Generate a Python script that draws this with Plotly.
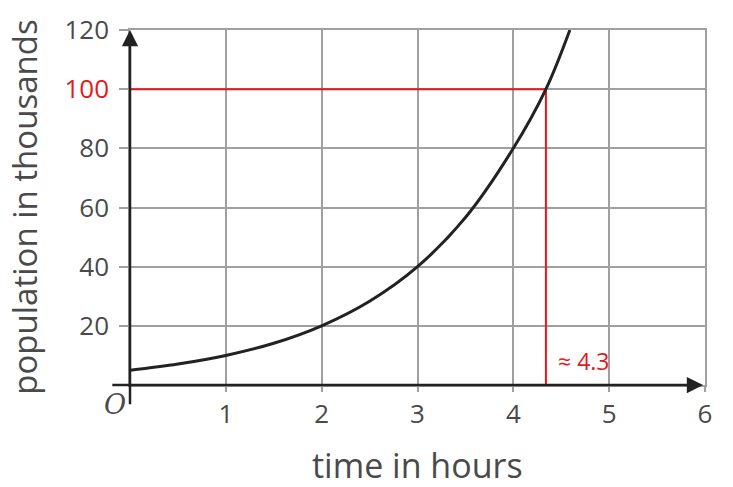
import plotly.graph_objects as go

# Data
time_hours = [0, 0.5, 1, 1.5, 2, 2.5, 3, 3.5, 4, 4.34, 4.59]
population = [5, 7.1, 10, 14.1, 20, 28.3, 40, 56.6, 80, 100, 120]

target_population = 100
solution_time = 4.34
solution_label = "≈ 4.3"

x_ticks = [1, 2, 3, 4, 5, 6]
y_ticks = [20, 40, 60, 80, 100, 120]
y_tick_text = ["20", "40", "60", "80", '<span style="color:#e3191c">100</span>', "120"]

RED = "#e3191c"
GRID = "#a0a0a0"
INK = "#222222"
TXT = "#4a4a4a"

fig = go.Figure()

# Red guide lines
fig.add_trace(go.Scatter(
    x=[0, solution_time, solution_time],
    y=[target_population, target_population, 0],
    mode="lines", line=dict(color=RED, width=2), hoverinfo="skip", showlegend=False))

# Curve
fig.add_trace(go.Scatter(
    x=time_hours, y=population, mode="lines",
    line=dict(color=INK, width=3, shape="spline", smoothing=1.0),
    showlegend=False, cliponaxis=False))

font_family = "Open Sans, DejaVu Sans, sans-serif"

fig.update_layout(
    width=733, height=487,
    margin=dict(l=122, r=36, t=22, b=110, autoexpand=False),
    paper_bgcolor="white", plot_bgcolor="white",
    font=dict(family=font_family, color=TXT),
    xaxis=dict(range=[0, 6], tickvals=x_ticks, ticktext=[str(v) for v in x_ticks],
               showgrid=True, gridcolor=GRID, gridwidth=1.5,
               ticks="outside", ticklen=5, tickcolor=GRID, tickwidth=1.5,
               showline=True, mirror=True, linecolor=GRID, linewidth=1.5,
               zeroline=False, tickfont=dict(size=26, color=TXT), fixedrange=True,
               automargin=False),
    yaxis=dict(range=[0, 120], tickvals=y_ticks, ticktext=y_tick_text,
               showgrid=True, gridcolor=GRID, gridwidth=1.5,
               ticks="outside", ticklen=9, tickcolor=GRID, tickwidth=1.5,
               showline=True, mirror=True, linecolor=GRID, linewidth=1.5,
               zeroline=False, tickfont=dict(size=26, color=TXT),
               ticklabelstandoff=5, fixedrange=True, automargin=False),
)

# Axis arrows
fig.add_annotation(x=0, y=120, ax=0, ay=-7, xref="x", yref="y", axref="x", ayref="y",
                   showarrow=True, arrowhead=2, arrowsize=1.3, arrowwidth=2.5,
                   arrowcolor=INK, text="")
fig.add_annotation(x=5.98, y=0, ax=-0.2, ay=0, xref="x", yref="y", axref="x", ayref="y",
                   showarrow=True, arrowhead=2, arrowsize=1.3, arrowwidth=2.5,
                   arrowcolor=INK, text="")

# Origin label
fig.add_annotation(x=-0.026, y=-0.056, xref="paper", yref="paper", text="<i>O</i>",
                   showarrow=False, xanchor="center", yanchor="middle",
                   font=dict(size=27, color=TXT, family="DejaVu Serif, serif"))

# Solution label
fig.add_annotation(x=solution_time + 0.1, y=8, xref="x", yref="y", text=solution_label,
                   showarrow=False, xanchor="left", yanchor="middle",
                   font=dict(size=23, color=RED, family=font_family))

# Axis titles
fig.add_annotation(x=-0.184, y=0.5, xref="paper", yref="paper", text="population in thousands",
                   textangle=-90, showarrow=False, xanchor="center", yanchor="middle",
                   font=dict(size=33, color=TXT))
fig.add_annotation(x=0.5, y=-0.225, xref="paper", yref="paper", text="time in hours",
                   showarrow=False, xanchor="center", yanchor="middle",
                   font=dict(size=34, color=TXT))

fig.write_html("out.html")
